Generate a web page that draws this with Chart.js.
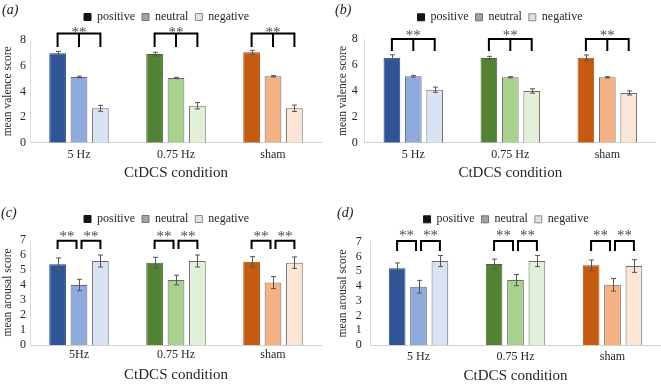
<!DOCTYPE html>
<html><head><meta charset="utf-8">
<script src="https://cdn.jsdelivr.net/npm/chart.js@4/dist/chart.umd.min.js"></script>
<style>
body{margin:0;background:#fff;width:661px;height:385px;overflow:hidden;position:relative;font-family:"Liberation Serif","Times New Roman",serif}
.p{position:absolute}
.lab{position:absolute;font-style:italic;font-size:14px;line-height:14px;color:#1a1a1a}
</style></head><body>
<div class="p" style="left:0;top:0"><canvas id="cA" width="330" height="190"></canvas></div>
<div class="p" style="left:330px;top:0"><canvas id="cB" width="331" height="190"></canvas></div>
<div class="p" style="left:0;top:190px"><canvas id="cC" width="330" height="195"></canvas></div>
<div class="p" style="left:330px;top:190px"><canvas id="cD" width="331" height="195"></canvas></div>
<span class="lab" style="left:2px;top:3px">(a)</span>
<span class="lab" style="left:335px;top:3px">(b)</span>
<span class="lab" style="left:1px;top:206px">(c)</span>
<span class="lab" style="left:337px;top:206px">(d)</span>
<script>
// ---- data ----
const seriesNames = ['positive', 'neutral', 'negative'];
const catsA = ['5 Hz', '0.75 Hz', 'sham'];
const catsB = ['5 Hz', '0.75 Hz', 'sham'];
const catsC = ['5Hz', '0.75 Hz', 'sham'];
const catsD = ['5 Hz', '0.75 Hz', 'sham'];
const xTitle = 'CtDCS condition';
const yTitleValence = 'mean valence score';
const yTitleArousal = 'mean arousal score';

// (a) valence
const aPos = [6.96, 6.90, 7.04];
const aNeu = [5.12, 5.04, 5.17];
const aNeg = [2.68, 2.88, 2.68];
const aPosErr = [0.15, 0.15, 0.16];
const aNeuErr = [0.06, 0.05, 0.06];
const aNegErr = [0.23, 0.25, 0.25];
// (b) valence
const bPos = [6.58, 6.55, 6.58];
const bNeu = [5.14, 5.06, 5.06];
const bNeg = [4.10, 4.00, 3.85];
const bPosErr = [0.22, 0.13, 0.21];
const bNeuErr = [0.07, 0.05, 0.05];
const bNegErr = [0.20, 0.17, 0.16];
// (c) arousal
const cPos = [5.38, 5.49, 5.55];
const cNeu = [4.00, 4.33, 4.16];
const cNeg = [5.60, 5.60, 5.49];
const cPosErr = [0.42, 0.36, 0.34];
const cNeuErr = [0.38, 0.32, 0.40];
const cNegErr = [0.40, 0.40, 0.38];
// (d) arousal
const dPos = [5.20, 5.49, 5.40];
const dNeu = [3.95, 4.40, 4.08];
const dNeg = [5.69, 5.69, 5.35];
const dPosErr = [0.36, 0.33, 0.36];
const dNeuErr = [0.43, 0.38, 0.43];
const dNegErr = [0.38, 0.38, 0.43];

const valenceTicks = {max: 8, step: 2};
const arousalTicks = {max: 7, step: 1};

// ---- styles ----
const SERIF = '"Liberation Serif", "Times New Roman", serif';
const TXT = '#262626';
const posColors = ['#2F5597', '#548235', '#C55A11'];
const neuColors = ['#8FAADC', '#A9D18E', '#F4B183'];
const negColors = ['#DAE3F3', '#E2F0D9', '#FBE5D6'];
const posBorder = ['#26467d', '#44692b', '#9f490e'];
const lightBorder = '#6b6b6b';
const legendSwatches = [
  {fill: '#141414', stroke: '#141414'},
  {fill: '#a3a3a3', stroke: '#707070'},
  {fill: '#e2e2e2', stroke: '#8a8a8a'}
];

const fixLegend = {
  id: 'fixLegend',
  beforeLayout(chart, args, opts) {
    const lg = chart.legend;
    if (lg && !lg.__fixed) {
      const orig = lg.fit.bind(lg);
      lg.fit = function () { orig(); this.height = opts.height; };
      lg.__fixed = true;
    }
  }
};

const annot = {
  id: 'annot',
  afterDatasetsDraw(chart, args, o) {
    const ctx = chart.ctx, ys = chart.scales.y, top = chart.chartArea.top;
    ctx.save();
    chart.data.datasets.forEach((ds, di) => {
      const meta = chart.getDatasetMeta(di);
      meta.data.forEach((bar, i) => {
        const v = ds.data[i], e = ds.err[i];
        const x = Math.round(bar.x) + 0.5;
        const y1 = ys.getPixelForValue(v + e), y2 = ys.getPixelForValue(v - e);
        ctx.strokeStyle = '#555'; ctx.lineWidth = 1;
        ctx.beginPath();
        ctx.moveTo(x, y1); ctx.lineTo(x, y2);
        ctx.moveTo(x - 2.5, y1); ctx.lineTo(x + 2.5, y1);
        ctx.moveTo(x - 2.5, y2); ctx.lineTo(x + 2.5, y2);
        ctx.stroke();
      });
    });
    const m = [0, 1, 2].map(d => chart.getDatasetMeta(d).data);
    const yTop = top + o.top, yLeg = top + o.leg;
    ctx.strokeStyle = '#000'; ctx.lineWidth = 2; ctx.lineJoin = 'miter';
    ctx.fillStyle = '#4a4a4a';
    ctx.font = '15px ' + SERIF; ctx.textAlign = 'center'; ctx.textBaseline = 'middle';
    const bracket = (l, r, mid) => {
      ctx.beginPath();
      ctx.moveTo(l, yLeg); ctx.lineTo(l, yTop); ctx.lineTo(r, yTop); ctx.lineTo(r, yLeg);
      if (mid !== undefined) { ctx.moveTo(mid, yTop); ctx.lineTo(mid, yLeg); }
      ctx.stroke();
      ctx.fillText('**', (l + r) / 2, yTop + o.star + 3.2);
    };
    for (let i = 0; i < m[0].length; i++) {
      const xa = m[0][i].x, xb = m[1][i].x, xc = m[2][i].x;
      if (o.mode === 'all') bracket(xa, xc, xb);
      else { bracket(xa, xb - 2.5); bracket(xb + 2.5, xc); }
    }
    ctx.restore();
  }
};

function makePanel(id, cats, vals, errs, yt, yTitle, g, br) {
  const bg = [posColors, neuColors, negColors];
  const bc = [posBorder, lightBorder, lightBorder];
  new Chart(document.getElementById(id), {
    type: 'bar',
    data: {
      labels: cats,
      datasets: seriesNames.map((n, k) => ({
        label: n, data: vals[k], err: errs[k],
        backgroundColor: bg[k], borderColor: bc[k], borderWidth: 1
      }))
    },
    options: {
      responsive: false, animation: false,
      layout: {padding: {top: g.padTop, right: g.padRight, left: g.padLeft, bottom: 0}},
      datasets: {bar: {categoryPercentage: 0.662, barPercentage: 0.78}},
      plugins: {
        tooltip: {enabled: false},
        legend: {
          display: true, position: 'top',
          labels: {
            font: {family: SERIF, size: 12}, color: TXT,
            boxWidth: 7, boxHeight: 7, padding: 7,
            generateLabels: () => seriesNames.map((n, k) => ({
              text: n, fillStyle: legendSwatches[k].fill, strokeStyle: legendSwatches[k].stroke,
              lineWidth: 1, datasetIndex: k, hidden: false, fontColor: TXT
            }))
          }
        },
        fixLegend: {height: g.legendH},
        annot: br
      },
      scales: {
        x: {
          grid: {display: false, drawTicks: false},
          border: {display: true, color: '#d0d0d0'},
          ticks: {font: {family: SERIF, size: 12}, color: TXT, padding: g.xTickPad},
          title: {display: true, text: xTitle, font: {family: SERIF, size: 15}, color: TXT,
                  padding: {top: 0, bottom: g.xTitlePad}},
          afterFit: s => { s.height = g.xH; }
        },
        y: {
          min: 0, max: yt.max,
          grid: {display: false, drawTicks: false},
          border: {display: true, color: '#dadada'},
          ticks: {stepSize: yt.step, autoSkip: false, font: {family: SERIF, size: 12}, color: TXT, padding: g.yTickPad},
          title: {display: true, text: yTitle, font: {family: SERIF, size: 11.5}, color: TXT,
                  padding: {top: g.yTitlePad, bottom: 0}},
          afterFit: s => { s.width = g.yW; }
        }
      }
    },
    plugins: [fixLegend, annot]
  });
}

makePanel('cA', catsA, [aPos, aNeu, aNeg], [aPosErr, aNeuErr, aNegErr], valenceTicks, yTitleValence,
  {padLeft: 11.5, yW: 19, padRight: 8.5, padTop: 4, legendH: 36, xH: 47.3, yTitlePad: -10.4, yTickPad: 4.5, xTickPad: 5.1, xTitlePad: 8},
  {mode: 'all', top: -6.5, leg: 7, star: -4});
makePanel('cB', catsB, [bPos, bNeu, bNeg], [bPosErr, bNeuErr, bNegErr], valenceTicks, yTitleValence,
  {padLeft: 14.2, yW: 20.6, padRight: 5.2, padTop: 4.3, legendH: 35, xH: 47.3, yTitlePad: -8.1, yTickPad: 7, xTickPad: 5.1, xTitlePad: 8},
  {mode: 'all', top: -0.3, leg: 11.7, star: -6});
makePanel('cC', catsC, [cPos, cNeu, cNeg], [cPosErr, cNeuErr, cNegErr], arousalTicks, yTitleArousal,
  {padLeft: 11.5, yW: 19, padRight: 8.5, padTop: 16, legendH: 34, xH: 40, yTitlePad: -10.9, yTickPad: 4.5, xTickPad: 2.8, xTitlePad: 1},
  {mode: 'pairs', top: 0.7, leg: 9, star: -6.4});
makePanel('cD', catsD, [dPos, dNeu, dNeg], [dPosErr, dNeuErr, dNegErr], arousalTicks, yTitleArousal,
  {padLeft: 21, yW: 19, padRight: 0, padTop: 16.3, legendH: 35.4, xH: 40, yTitlePad: -14.9, yTickPad: 8.3, xTickPad: 4.5, xTitlePad: 0},
  {mode: 'pairs', top: -0.7, leg: 9.3, star: -7.7});
</script>
</body></html>
